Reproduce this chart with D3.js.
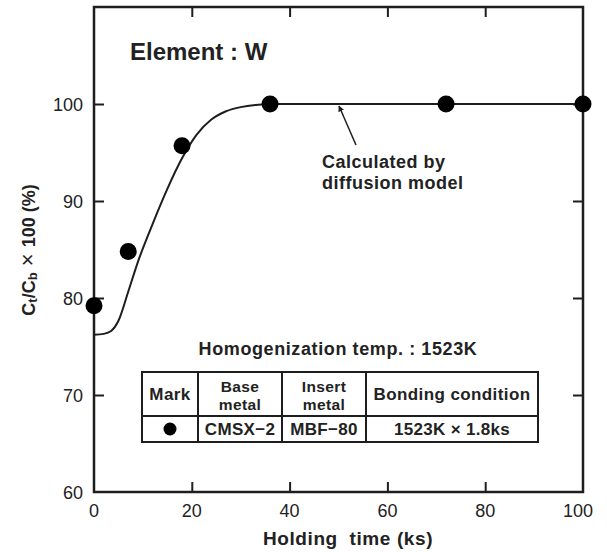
<!DOCTYPE html>
<html><head><meta charset="utf-8">
<script src="https://cdn.jsdelivr.net/npm/d3@7"></script>
<style>body{margin:0;background:#fff;} text{font-family:"Liberation Sans",Arial,sans-serif;fill:#222;}</style>
</head><body>
<svg id="c" width="607" height="552"></svg>
<script>
const measX = [0, 7, 18, 36, 72, 100];
const measY = [79.2, 84.8, 95.7, 100, 100, 100];
const modelX = [0, 2, 3.5, 5, 7, 9, 12, 15, 18, 21, 24, 27, 30, 33, 37, 42, 100];
const modelY = [76.2, 76.3, 76.6, 77.65, 80.65, 83.75, 87.65, 91.25, 94.4, 96.85, 98.4, 99.25, 99.68, 99.9, 100, 100, 100];
const xTicks = [0, 20, 40, 60, 80, 100];
const yTicks = [60, 70, 80, 90, 100];
const tableHeader = [["Mark"], ["Base", "metal"], ["Insert", "metal"], ["Bonding condition"]];
const tableRow = ["●", "CMSX−2", "MBF−80", "1523K × 1.8ks"];

const svg = d3.select("#c");
const L = 94, R = 583, T = 7, B = 492;
const x = d3.scaleLinear().domain([0, 100]).range([L, R]);
const y = d3.scaleLinear().domain([60, 110]).range([B, T]);
const ink = "#1e1e1e";

// frame
svg.append("rect").attr("x", L).attr("y", T).attr("width", R - L).attr("height", B - T)
  .attr("fill", "none").attr("stroke", ink).attr("stroke-width", 2.5);

// ticks (inward)
const tk = 10;
svg.append("g").attr("transform", `translate(0,${B})`)
  .call(d3.axisBottom(x).tickValues(xTicks.slice(1, -1)).tickSize(-tk).tickFormat(""))
  .call(g => g.select(".domain").remove());
svg.append("g").attr("transform", `translate(0,${T})`)
  .call(d3.axisTop(x).tickValues(xTicks.slice(1, -1)).tickSize(-tk).tickFormat(""))
  .call(g => g.select(".domain").remove());
svg.append("g").attr("transform", `translate(${L},0)`)
  .call(d3.axisLeft(y).tickValues(yTicks.slice(1)).tickSize(-tk).tickFormat(""))
  .call(g => g.select(".domain").remove());
svg.append("g").attr("transform", `translate(${R},0)`)
  .call(d3.axisRight(y).tickValues(yTicks.slice(1)).tickSize(-tk).tickFormat(""))
  .call(g => g.select(".domain").remove());
svg.selectAll(".tick line").attr("stroke", ink).attr("stroke-width", 2);

// tick labels
svg.selectAll(".xl").data(xTicks).enter().append("text")
  .attr("x", d => x(d) - (d === 100 ? 5 : 0)).attr("y", B + 25).attr("text-anchor", "middle")
  .attr("font-size", 18).text(d => d);
svg.selectAll(".yl").data(yTicks).enter().append("text")
  .attr("x", L - 11).attr("y", d => y(d) + 7).attr("text-anchor", "end")
  .attr("font-size", 18).text(d => d);

// axis titles
svg.append("text").attr("x", 348).attr("y", 545).attr("text-anchor", "middle")
  .attr("font-size", 19).attr("font-weight", "bold").attr("letter-spacing", 0.6)
  .attr("xml:space", "preserve").text("Holding  time (ks)");
const yt = svg.append("text").attr("transform", "translate(35,250) rotate(-90)")
  .attr("text-anchor", "middle").attr("font-size", 18).attr("font-weight", "bold");
yt.append("tspan").text("C");
yt.append("tspan").attr("font-size", 13).attr("dy", 2).text("t");
yt.append("tspan").attr("dy", -2).text("/C");
yt.append("tspan").attr("font-size", 13).attr("dy", 2).text("b");
yt.append("tspan").attr("dy", -2).attr("font-weight", "normal").attr("font-size", 22).text(" × ");
yt.append("tspan").text("100 (%)");

// model curve
const line = d3.line().x(d => x(d[0])).y(d => y(d[1])).curve(d3.curveMonotoneX);
svg.append("path").datum(modelX.map((v, i) => [v, modelY[i]]))
  .attr("d", line).attr("fill", "none").attr("stroke", ink).attr("stroke-width", 2);

// points
svg.selectAll(".pt").data(measX.map((v, i) => [v, measY[i]])).enter().append("circle")
  .attr("cx", d => x(d[0])).attr("cy", d => y(d[1])).attr("r", 8.5).attr("fill", "#000");

// title
svg.append("text").attr("x", 130).attr("y", 60).attr("font-size", 24)
  .attr("font-weight", "bold").text("Element : W");

// arrow annotation
svg.append("defs").append("marker").attr("id", "ah").attr("viewBox", "0 0 10 10")
  .attr("refX", 9).attr("refY", 5).attr("markerWidth", 4).attr("markerHeight", 5)
  .attr("orient", "auto").append("path").attr("d", "M0,0L10,5L0,10z").attr("fill", ink);
svg.append("line").attr("x1", 356).attr("y1", 145).attr("x2", 339).attr("y2", 106)
  .attr("stroke", ink).attr("stroke-width", 1.5).attr("marker-end", "url(#ah)");
svg.append("text").attr("x", 322).attr("y", 168).attr("font-size", 18).attr("font-weight", "bold")
  .attr("letter-spacing", 0.5).text("Calculated by");
svg.append("text").attr("x", 322).attr("y", 189).attr("font-size", 18).attr("font-weight", "bold")
  .attr("letter-spacing", 0.5).text("diffusion model");

// homogenization
svg.append("text").attr("x", 338).attr("y", 355).attr("text-anchor", "middle")
  .attr("font-size", 18).attr("font-weight", "bold").attr("letter-spacing", 0.6)
  .text("Homogenization temp. : 1523K");

// table
const colX = [142, 198, 282, 366, 538];
const rowY = [372, 416, 442];
const tg = svg.append("g");
tg.append("rect").attr("x", colX[0]).attr("y", rowY[0]).attr("width", colX[4] - colX[0])
  .attr("height", rowY[2] - rowY[0]).attr("fill", "none").attr("stroke", ink).attr("stroke-width", 2);
tg.append("line").attr("x1", colX[0]).attr("x2", colX[4]).attr("y1", rowY[1]).attr("y2", rowY[1])
  .attr("stroke", ink).attr("stroke-width", 2);
colX.slice(1, 4).forEach(cx => tg.append("line").attr("x1", cx).attr("x2", cx)
  .attr("y1", rowY[0]).attr("y2", rowY[2]).attr("stroke", ink).attr("stroke-width", 2));
tableHeader.forEach((lines, i) => {
  const cx = (colX[i] + colX[i + 1]) / 2;
  const n = lines.length;
  lines.forEach((s, j) => {
    tg.append("text").attr("x", cx).attr("text-anchor", "middle")
      .attr("font-size", n === 1 ? 17 : 15.5)
      .attr("font-weight", "bold").attr("letter-spacing", 0.4)
      .attr("y", n === 1 ? 400 : 392 + j * 17.5).text(s);
  });
});
tableRow.forEach((s, i) => {
  const cx = (colX[i] + colX[i + 1]) / 2;
  if (i === 0) {
    tg.append("circle").attr("cx", cx).attr("cy", 429).attr("r", 6.5).attr("fill", "#000");
  } else {
    tg.append("text").attr("x", cx).attr("y", 435).attr("text-anchor", "middle")
      .attr("font-size", 17).attr("font-weight", "bold").attr("letter-spacing", 0.3).text(s);
  }
});
</script>
</body></html>
